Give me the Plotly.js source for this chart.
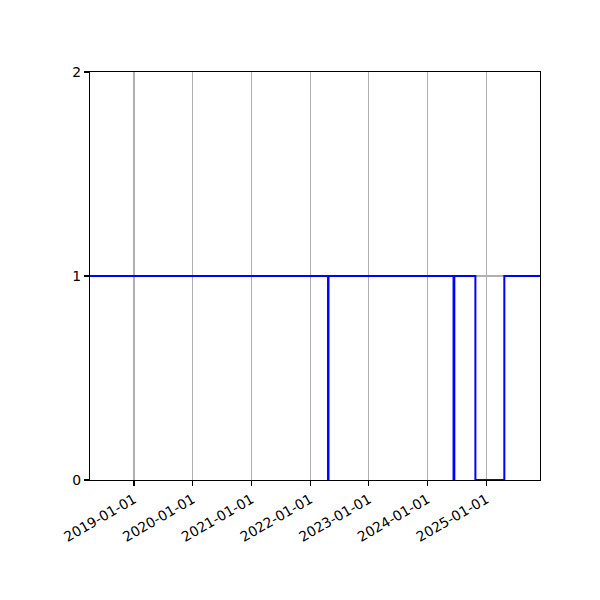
<!DOCTYPE html>
<html><head><meta charset="utf-8">
<script src="https://cdn.plot.ly/plotly-3.0.1.min.js"></script>
<style>body{margin:0}#c{width:600px;height:600px}</style>
</head><body><div id="c"></div>
<script>
const dates = ["2018-04-02","2022-04-22","2022-04-25","2024-06-11","2024-06-16","2024-10-25","2025-04-23","2025-12-01"];
const values = [1,0,1,0,1,0,1,1];
const tickVals = ["2019-01-01","2020-01-01","2021-01-01","2022-01-01","2023-01-01","2024-01-01","2025-01-01"];
const yTicks = [0,1,2];

Plotly.newPlot('c', [{
  x: dates, y: values, type: 'scatter', mode: 'lines',
  line: {shape: 'hv', color: '#0000ff', width: 2}
}], {
  width: 600, height: 600,
  margin: {l: 90, r: 60, t: 72, b: 120},
  paper_bgcolor: '#fff', plot_bgcolor: '#fff',
  showlegend: false,
  font: {family: 'DejaVu Sans', size: 13.9, color: '#000'},
  xaxis: {
    type: 'date', range: [dates[0], dates[dates.length-1]],
    tickmode: 'array', tickvals: tickVals, ticktext: tickVals,
    tickangle: -30, ticks: 'outside', ticklen: 5, tickwidth: 1.1, tickcolor: '#000',
    showline: true, linecolor: '#000', linewidth: 1.1, mirror: true,
    showgrid: true, gridcolor: '#b0b0b0', gridwidth: 1.1, zeroline: false
  },
  yaxis: {
    range: [0, 2], tickmode: 'array', tickvals: yTicks,
    ticks: 'outside', ticklen: 5, tickwidth: 1.1, tickcolor: '#000',
    showline: true, linecolor: '#000', linewidth: 1.1, mirror: true,
    showgrid: true, gridcolor: '#b0b0b0', gridwidth: 1.1, zeroline: false
  }
}, {displayModeBar: false, staticPlot: true});
</script></body></html>
